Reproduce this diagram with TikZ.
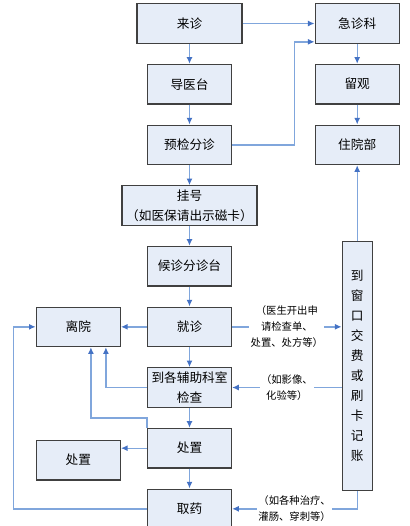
\documentclass[tikz,border=0pt]{standalone}
\usepackage{fontspec}
\setmainfont{Noto Sans CJK SC}
\usepackage{tikz}
\usetikzlibrary{calc, arrows.meta, positioning}
\definecolor{boxfill}{RGB}{230,237,248}
\definecolor{lineblue}{RGB}{128,166,220}
\definecolor{tipblue}{RGB}{68,114,196}

\begin{document}
\begin{tikzpicture}[
        x=0.75pt, y=0.75pt,
        node distance = 15pt and 19.5pt,
        box/.style = {draw=black!75, fill=boxfill, rectangle, line width=0.9pt, align=center, inner sep=0pt, minimum width=63pt, minimum height=29.6pt, font=\fontsize{9.5}{15}\selectfont},
        note/.style = {fill=white, inner sep=1pt, align=center, font=\fontsize{7.75}{12}\selectfont},
        arrow/.style = {draw=lineblue, line width=1pt, -{Latex[length=5pt, width=4.5pt, color=tipblue]}}
    ]

        \useasboundingbox (0,0) rectangle (410,-526);

        % Main column
        \node (laizhen) [box, minimum width=78.75pt] at (189.5,-23.5) {来诊};
        \node (daoyi) [box, below=of laizhen] {导医台};
        \node (yujian) [box, below=of daoyi] {预检分诊};
        \node (guahao) [box, below=of yujian, minimum width=101.25pt] {挂号\\（如医保请出示磁卡）};
        \node (houzhen) [box, below=of guahao] {候诊分诊台};
        \node (jiuzhen) [box, below=of houzhen] {就诊};
        \node (fuzhu) [box, below=of jiuzhen] {到各辅助科室\\检查};
        \node (chuzhi) [box, below=of fuzhu] {处置};
        \node (quyao) [box, below=of chuzhi] {取药};

        % Emergency column
        \node (jizhen) [box, right=54pt of laizhen] {急诊科};
        \node (liuguan) [box, below=of jizhen] {留观};
        \node (zhuyuan) [box, below=of liuguan] {住院部};
        \node (chuangkou) [box, below=57pt of zhuyuan, minimum width=22.5pt, minimum height=186.75pt] {到\\窗\\口\\交\\费\\或\\刷\\卡\\记\\账};

        % Left side
        \node (liyuan) [box, left=of jiuzhen] {离院};
        \node (chuzhiside) [box, left=of chuzhi, yshift=-9pt] {处置};

        % Arrows
        \draw [arrow] (laizhen) -- (daoyi);
        \draw [arrow] (daoyi) -- (yujian);
        \draw [arrow] (yujian) -- (guahao);
        \draw [arrow] (guahao) -- (houzhen);
        \draw [arrow] (houzhen) -- (jiuzhen);
        \draw [arrow] (jiuzhen) -- (fuzhu);
        \draw [arrow] (fuzhu) -- (chuzhi);
        \draw [arrow] (chuzhi) -- (quyao);
        \draw [arrow] (laizhen) -- (jizhen);
        \draw [arrow] (yujian.east) -| ([xshift=-15pt, yshift=1.5pt]jizhen.south west) -- ([yshift=1.5pt]jizhen.south west);
        \draw [arrow] (jizhen) -- (liuguan);
        \draw [arrow] (liuguan) -- (zhuyuan);
        \draw [arrow] (chuangkou) -- (zhuyuan);
        \draw [arrow] (jiuzhen) -- (liyuan);
        \draw [arrow] (chuzhi.west) -- (chuzhi.west -| chuzhiside.east);

        % Payment window
        \draw [arrow] (jiuzhen.east) -- node[note] {（医生开出申\\请检查单、\\处置、处方等）} (jiuzhen.east -| chuangkou.west);
        \draw [arrow] (fuzhu.east -| chuangkou.west) -- node[note] {（如影像、\\化验等）} (fuzhu.east);
        \draw [arrow] (chuangkou.south) |- node[note, pos=0.75] {（如各种治疗、\\灌肠、穿刺等）} (quyao.east);

        % Back to leaving
        \draw [arrow] (fuzhu.west) -| ([xshift=-11.25pt]liyuan.south east);
        \draw [arrow] (chuzhi.north west) -- ++(0,7.5pt) -| ([xshift=-22.5pt]liyuan.south east);
        \draw [arrow] (quyao.west) -| ([xshift=-16.5pt]liyuan.west) -- (liyuan.west);

    \end{tikzpicture}
\end{document}
